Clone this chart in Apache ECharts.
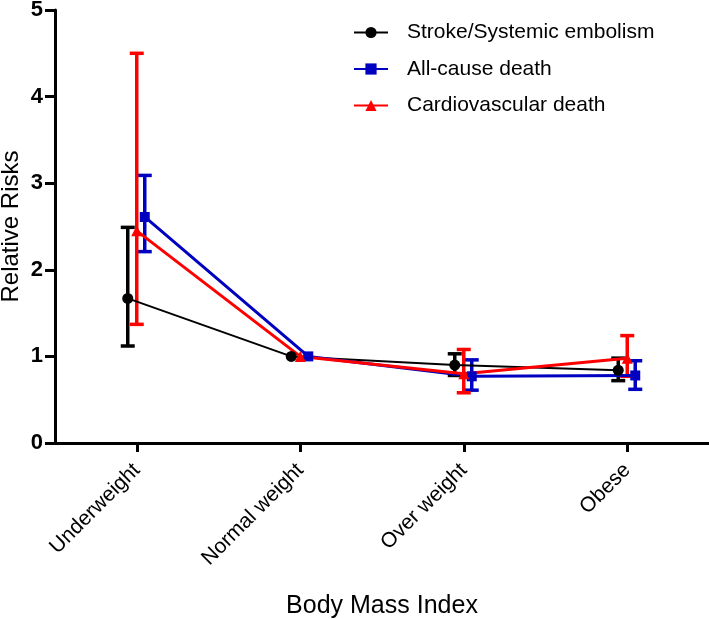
<!DOCTYPE html>
<html>
<head>
<meta charset="utf-8">
<script src="https://cdn.jsdelivr.net/npm/echarts@6/dist/echarts.min.js"></script>
<style>html,body{margin:0;padding:0;background:#fff;}#c{width:709px;height:619px;}</style>
</head>
<body>
<div id="c"></div>
<script>
var categories = ['Underweight', 'Normal weight', 'Over weight', 'Obese'];
var yTicks = [0, 1, 2, 3, 4, 5];

var strokeRR   = [1.67, 1.00, 0.90, 0.84];
var strokeLow  = [1.12, null, 0.78, 0.72];
var strokeHigh = [2.49, null, 1.03, 0.98];

var allRR   = [2.61, 1.00, 0.77, 0.78];
var allLow  = [2.21, null, 0.61, 0.62];
var allHigh = [3.09, null, 0.96, 0.95];

var cvRR   = [2.45, 1.00, 0.80, 0.98];
var cvLow  = [1.37, null, 0.58, 0.77];
var cvHigh = [4.50, null, 1.08, 1.24];

var FONT = 'Liberation Sans, Arial, sans-serif';
var BAND = 163.5; // px per category

function pts(vals, offPx) {
  return vals.map(function (v, i) { return [i + offPx / BAND, v]; });
}
function errs(low, high, offPx) {
  var out = [];
  low.forEach(function (l, i) {
    if (l != null && high[i] != null) out.push([i + offPx / BAND, l, high[i]]);
  });
  return out;
}
function errSeries(name, color, data, lw) {
  return {
    type: 'custom', name: name + ' CI', xAxisIndex: 1, z: 3,
    data: data,
    renderItem: function (params, api) {
      var x = api.value(0);
      var lo = api.coord([x, api.value(1)]);
      var hi = api.coord([x, api.value(2)]);
      var hw = 7;
      var st = { stroke: color, lineWidth: lw };
      return { type: 'group', children: [
        { type: 'line', shape: { x1: lo[0], y1: lo[1], x2: hi[0], y2: hi[1] }, style: st },
        { type: 'line', shape: { x1: lo[0] - hw, y1: lo[1], x2: lo[0] + hw, y2: lo[1] }, style: st },
        { type: 'line', shape: { x1: hi[0] - hw, y1: hi[1], x2: hi[0] + hw, y2: hi[1] }, style: st }
      ]};
    },
    encode: { x: 0, y: [1, 2] },
    silent: true
  };
}
function lineSeries(name, color, data, symbol, size, lw) {
  return {
    type: 'line', name: name, xAxisIndex: 1, z: 4,
    data: data, symbol: symbol, symbolSize: size, showAllSymbol: true,
    itemStyle: { color: color }, lineStyle: { color: color, width: lw },
    animation: false
  };
}

var chart = echarts.init(document.getElementById('c'));
chart.setOption({
  animation: false,
  backgroundColor: '#fff',
  grid: { left: 55, right: 0, top: 10, bottom: 176, containLabel: false, outerBoundsMode: 'none' },
  legend: {
    left: 353, top: 22, orient: 'vertical', padding: 0,
    itemWidth: 34, itemHeight: 14, itemGap: 15.5,
    data: ['Stroke/Systemic embolism', 'All-cause death', 'Cardiovascular death'],
    textStyle: { fontFamily: FONT, fontSize: 21, color: '#000', lineHeight: 20, padding: [0, 0, 0, 14] }
  },
  xAxis: [{
    type: 'category', data: categories, boundaryGap: true,
    name: 'Body Mass Index', nameLocation: 'middle', nameGap: 151, nameMoveOverlap: false,
    nameTextStyle: { fontFamily: FONT, fontSize: 25, color: '#000' },
    axisLine: { lineStyle: { color: '#000', width: 3 } },
    axisTick: { show: true, alignWithLabel: true, length: 9, lineStyle: { width: 3, color: '#000' } },
    axisLabel: { rotate: 45, fontFamily: FONT, fontSize: 21, color: '#000', margin: 24 },
    splitLine: { show: false }
  }, {
    type: 'value', min: -0.5, max: 3.5, show: false
  }],
  yAxis: {
    type: 'value', min: yTicks[0], max: yTicks[yTicks.length - 1], interval: 1,
    name: 'Relative Risks', nameLocation: 'middle', nameGap: 32, nameMoveOverlap: false,
    nameTextStyle: { fontFamily: FONT, fontSize: 24, color: '#000' },
    axisLine: { show: true, onZero: false, lineStyle: { color: '#000', width: 3 } },
    axisTick: { show: true, length: 10, lineStyle: { width: 3, color: '#000' } },
    axisLabel: { fontFamily: FONT, fontSize: 22, fontWeight: 'bold', color: '#000', margin: 12 },
    splitLine: { show: false }
  },
  series: [
    errSeries('Stroke/Systemic embolism', '#000000', errs(strokeLow, strokeHigh, -9), 3.5),
    lineSeries('Stroke/Systemic embolism', '#000000', pts(strokeRR, -9), 'circle', 11, 2),
    errSeries('All-cause death', '#0000c0', errs(allLow, allHigh, 8), 3.5),
    lineSeries('All-cause death', '#0000c0', pts(allRR, 8), 'rect', 10, 3),
    errSeries('Cardiovascular death', '#ff0000', errs(cvLow, cvHigh, 0), 3.5),
    lineSeries('Cardiovascular death', '#ff0000', pts(cvRR, 0), 'triangle', 11, 3)
  ]
});
</script>
</body>
</html>
